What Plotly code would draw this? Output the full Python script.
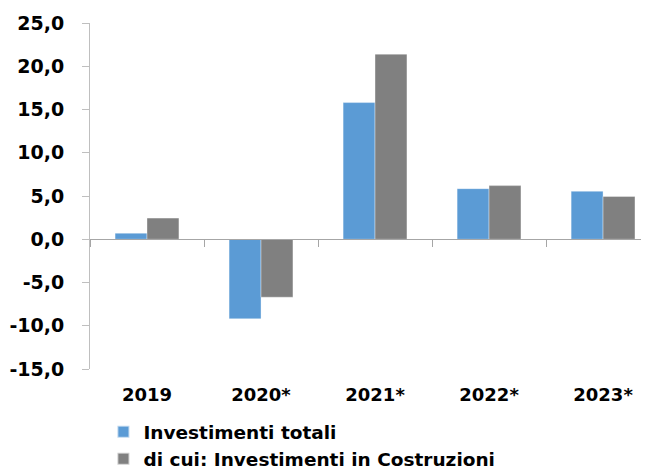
import plotly.graph_objects as go

categories = ["2019", "2020*", "2021*", "2022*", "2023*"]
investimenti_totali = [0.7, -9.2, 15.8, 5.85, 5.55]
investimenti_costruzioni = [2.45, -6.7, 21.4, 6.2, 4.95]
ytick_vals = [-15, -10, -5, 0, 5, 10, 15, 20, 25]
ytick_text = ["-15,0", "-10,0", "-5,0", "0,0", "5,0", "10,0", "15,0", "20,0", "25,0"]

FONT = "DejaVu Sans"
fig = go.Figure()
fig.add_trace(go.Bar(x=categories, y=investimenti_totali, name="<b>Investimenti totali</b>",
                     marker=dict(color="#5B9BD5", line=dict(color="rgba(255,255,255,0.6)", width=0.6))))
fig.add_trace(go.Bar(x=categories, y=investimenti_costruzioni,
                     name="<b>di cui: Investimenti in Costruzioni</b>",
                     marker=dict(color="#808080", line=dict(color="rgba(255,255,255,0.6)", width=0.6))))
# invisible helper trace for the zero-line axis with separator ticks
fig.add_trace(go.Scatter(x=categories, y=[0]*5, xaxis="x2", mode="markers",
                         marker=dict(opacity=0), showlegend=False, hoverinfo="skip"))

xr = [-0.5, 4.403]
fig.update_layout(
    width=641, height=464,
    margin=dict(l=82, r=0, t=15, b=103, autoexpand=False),
    paper_bgcolor="white", plot_bgcolor="white",
    font=dict(family=FONT, size=18, color="#000000"),
    barmode="group", bargap=0.44, bargroupgap=0,
    showlegend=True,
    legend=dict(orientation="v", x=0.024, xanchor="left", y=-0.128, yanchor="top",
                font=dict(family=FONT, size=18.5, color="#000000"),
                tracegroupgap=0, itemsizing="constant", bgcolor="rgba(0,0,0,0)"),
    xaxis=dict(type="category", range=xr, categoryorder="array", categoryarray=categories,
               showline=False, ticks="", showgrid=False, zeroline=False, automargin=False,
               tickfont=dict(family=FONT, size=18, color="#000000"),
               tickprefix="<b>", ticksuffix="</b>", ticklabelstandoff=13),
    xaxis2=dict(type="category", range=xr, categoryorder="array", categoryarray=categories,
                overlaying="x", anchor="free", position=(369-239)/346, side="bottom",
                showline=True, linecolor="#a6a6a6", linewidth=1, automargin=False,
                ticks="outside", tickson="boundaries", ticklen=7, tickcolor="#a6a6a6",
                showticklabels=False, showgrid=False, zeroline=False),
    yaxis=dict(range=[-15, 25], tickvals=ytick_vals, ticktext=[f"<b>{t}</b>" for t in ytick_text],
               showline=True, linecolor="#bfbfbf", linewidth=1, automargin=False,
               ticks="outside", ticklen=7, tickcolor="#bfbfbf",
               showgrid=False, zeroline=False, ticklabelstandoff=14,
               tickfont=dict(family=FONT, size=19, color="#000000")),
)
fig.write_html("out.html")
